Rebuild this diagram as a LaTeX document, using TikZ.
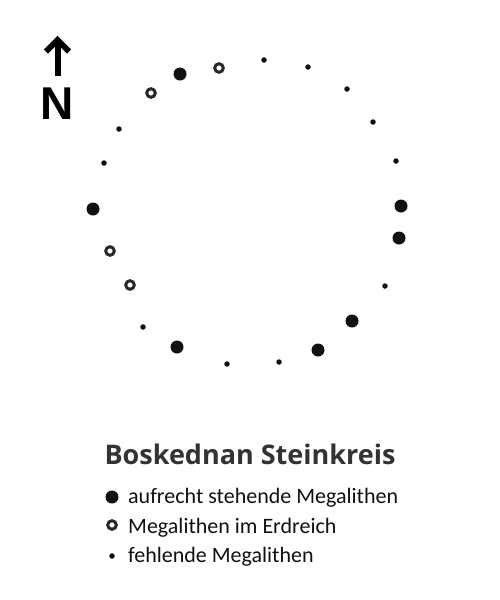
\documentclass[tikz,border=0pt]{standalone}
\usepackage{fontspec}
\setmainfont{Carlito}
\newfontfamily\titlefont{Open Sans}
\newfontfamily\nfont{Liberation Sans}
\definecolor{titlegray}{HTML}{333333}
\definecolor{ink}{HTML}{111111}
\tikzset{
  upright/.style={circle,fill=ink,inner sep=0pt,minimum size=13pt},
  buried/.style={circle,draw=ink!90,line width=3pt,inner sep=0pt,minimum size=8.6pt},
  missing/.style={circle,fill=ink,inner sep=0pt,minimum size=5.5pt},
  legendtext/.style={anchor=base west,inner sep=0pt,font=\fontsize{22}{24}\selectfont,text=ink},
  arrowline/.style={line width=6pt,draw=black,miter limit=10}
}
\begin{document}
\begin{tikzpicture}[x=1pt,y=-1pt]
\useasboundingbox (0,0) rectangle (500,600);
\fill[white] (0,0) rectangle (500,600);
% north arrow
\coordinate (arrowbase) at (57.5,76);
\coordinate (arrowtip) at (57.5,40);
\coordinate (armL) at (46,51.5);
\coordinate (armR) at (69,51.5);
\draw[arrowline] (arrowbase) -- (arrowtip);
\draw[arrowline,line join=miter] (armL) -- (arrowtip) -- (armR);
\node[anchor=base,inner sep=0pt,font=\nfont\bfseries\fontsize{46}{48}\selectfont] (north) at (57.5,119) {N};
% upright stones
\node[upright] (u1) at (180,74) {};
\node[upright] (u2) at (93,209) {};
\node[upright] (u3) at (401,206) {};
\node[upright] (u4) at (399,238) {};
\node[upright] (u5) at (352,321) {};
\node[upright] (u6) at (318,350) {};
\node[upright] (u7) at (177,347) {};
% buried stones
\node[buried] (b1) at (219,68) {};
\node[buried] (b2) at (151,93) {};
\node[buried] (b3) at (110,251) {};
\node[buried] (b4) at (130,285) {};
% missing stones
\node[missing] (m1) at (264,60) {};
\node[missing] (m2) at (308,67) {};
\node[missing] (m3) at (347,89) {};
\node[missing] (m4) at (373,122) {};
\node[missing] (m5) at (396,161) {};
\node[missing] (m6) at (119,129) {};
\node[missing] (m7) at (104,163) {};
\node[missing] (m8) at (143,327) {};
\node[missing] (m9) at (227,364) {};
\node[missing] (m10) at (279,362) {};
\node[missing] (m11) at (385,286) {};
% title
\node[anchor=base,inner sep=0pt,text=titlegray,font=\titlefont\bfseries\fontsize{27}{30}\selectfont] (title) at (250,464) {Boskednan Steinkreis};
% legend
\node[upright] (lu) at (112,497) {};
\node[buried] (lb) at (112,525) {};
\node[missing] (lm) at (112,556) {};
\node[legendtext] (t1) at (128,503) {aufrecht stehende Megalithen};
\node[legendtext] (t2) at (128,533) {Megalithen im Erdreich};
\node[legendtext] (t3) at (128,562) {fehlende Megalithen};
\end{tikzpicture}
\end{document}
